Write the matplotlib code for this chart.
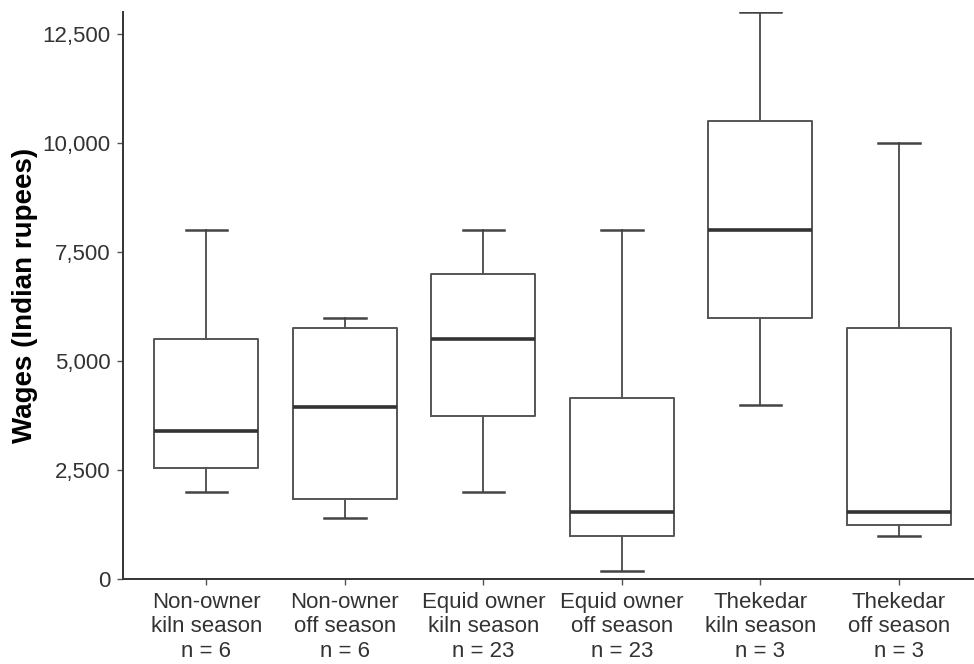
import matplotlib
matplotlib.use('Agg')
from matplotlib import pyplot as plt
from matplotlib.ticker import FuncFormatter

# group labels and sample sizes
groups = ['Non-owner\nkiln season', 'Non-owner\noff season',
          'Equid owner\nkiln season', 'Equid owner\noff season',
          'Thekedar\nkiln season', 'Thekedar\noff season']
n_sizes = [6, 6, 23, 23, 3, 3]

# box statistics (Indian rupees)
whisker_low = [2000, 1400, 2000, 200, 4000, 1000]
q1 = [2550, 1850, 3750, 1000, 6000, 1250]
median = [3400, 3950, 5500, 1550, 8000, 1550]
q3 = [5500, 5750, 7000, 4150, 10500, 5750]
whisker_high = [8000, 6000, 8000, 8000, 13000, 10000]

yticks = [0, 2500, 5000, 7500, 10000, 12500]

plt.rcParams['font.family'] = ['Liberation Sans', 'DejaVu Sans']

fig = plt.figure(figsize=(9.74, 6.64), dpi=100)
ax = fig.add_axes([0.1266, 0.1276, 0.8816, 0.854])

stats = []
for i in range(len(groups)):
    stats.append({'whislo': whisker_low[i], 'q1': q1[i], 'med': median[i],
                  'q3': q3[i], 'whishi': whisker_high[i], 'fliers': []})

line = '#555555'
ax.bxp(stats, positions=range(1, 7), widths=0.75, capwidths=0.3,
       showfliers=False,
       boxprops=dict(color=line, linewidth=1.4),
       whiskerprops=dict(color=line, linewidth=1.4),
       capprops=dict(color='#444444', linewidth=1.8),
       medianprops=dict(color='#333333', linewidth=2.6))

ax.set_xlim(0.4, 6.6)
ax.set_ylim(0, 13000)
ax.set_xticks(range(1, 7))
ax.set_xticklabels([f'{g}\nn = {n}' for g, n in zip(groups, n_sizes)],
                   fontsize=16, color='#333333', linespacing=1.22)
ax.set_yticks(yticks)
ax.yaxis.set_major_formatter(FuncFormatter(lambda v, p: f'{int(v):,}'))
for lab in ax.get_yticklabels():
    lab.set_fontsize(16)
    lab.set_color('#333333')
ax.tick_params(axis='both', length=4, width=1, color='#555555', pad=5)
ax.tick_params(axis='x', pad=5)

for side in ['top', 'right']:
    ax.spines[side].set_visible(False)
for side in ['left', 'bottom']:
    ax.spines[side].set_color('#333333')
    ax.spines[side].set_linewidth(1.4)

ax.set_ylabel('Wages (Indian rupees)', fontsize=20, fontweight='bold')
ax.yaxis.set_label_coords(-0.099, 0.5)

plt.savefig('out.png', dpi=100)
